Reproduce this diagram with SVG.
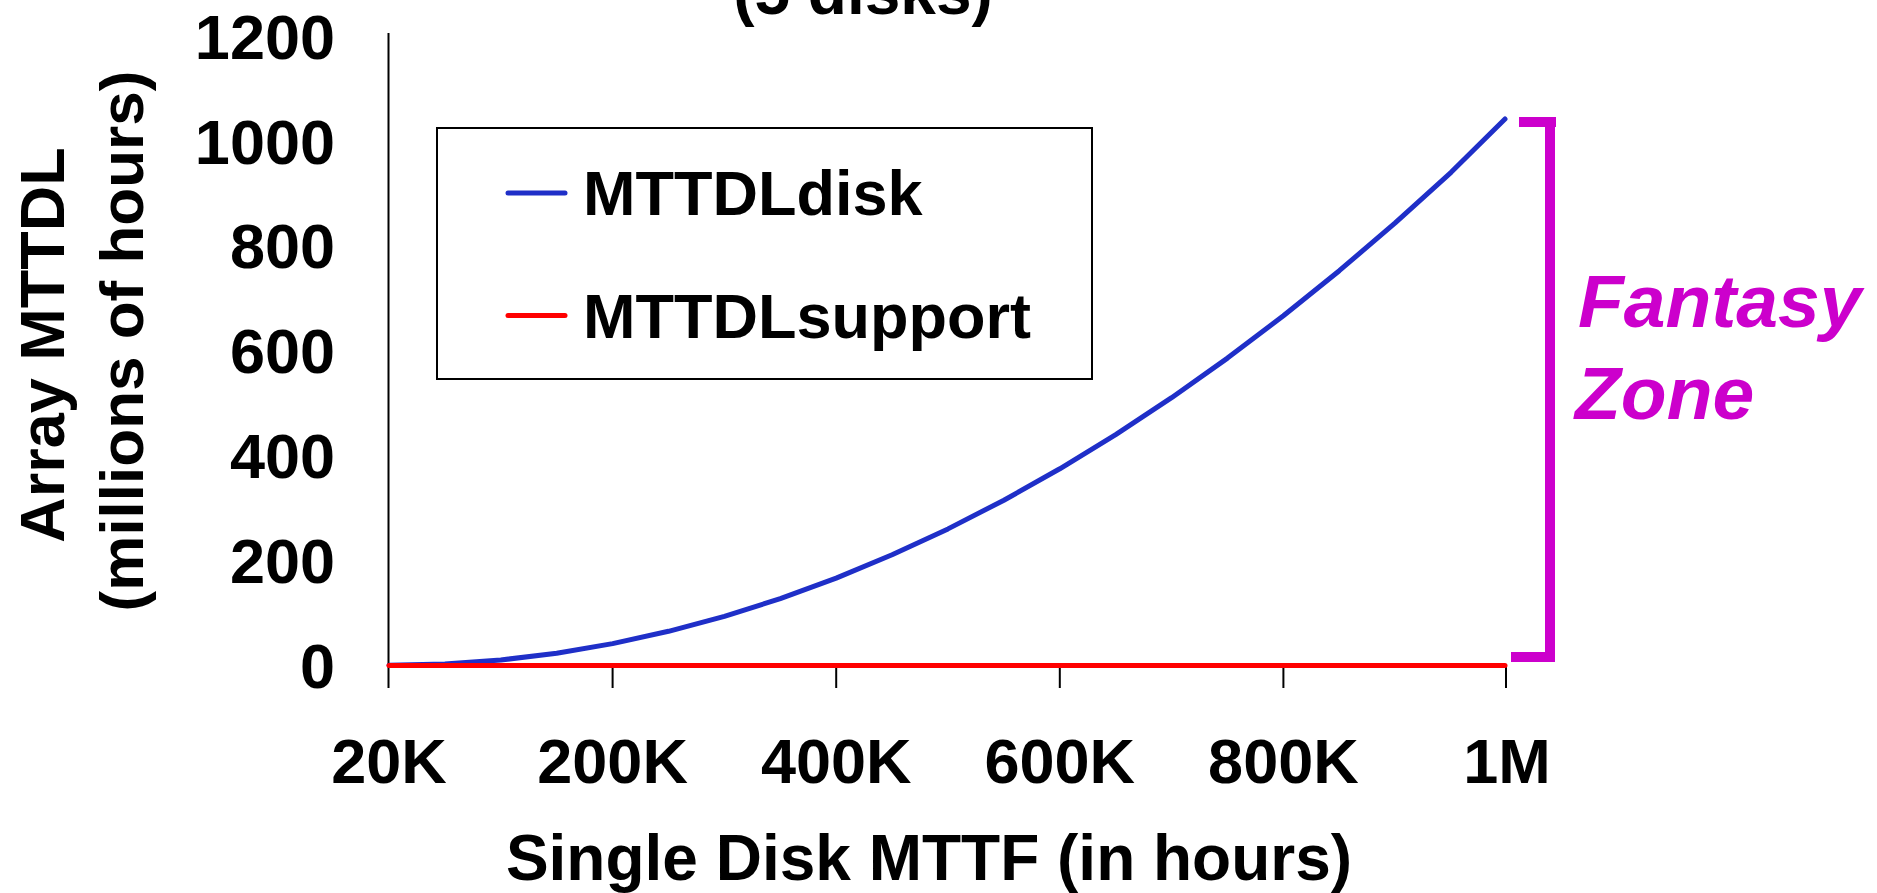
<svg xmlns="http://www.w3.org/2000/svg" width="1877" height="893" viewBox="0 0 1877 893">
<style>
text{font-family:"Liberation Sans",Arial,sans-serif;font-weight:bold;fill:#000}
.lab{font-size:63px}
.ttl{font-size:64px}
.fz{font-size:75px;font-style:italic;fill:#CC00CC}
.ax{stroke:#000;stroke-width:2;fill:none}
.disk{stroke:#1F2FC8;stroke-width:5;fill:none;stroke-linecap:round;stroke-linejoin:round}
.sup{stroke:#FF0000;stroke-width:5;fill:none;stroke-linecap:round}
.br{fill:#CC00CC}
</style>
<rect width="1877" height="893" fill="#fff"/>
<g id="title"><text class="ttl" x="863" y="14" text-anchor="middle">(5 disks)</text></g>
<g id="y-axis">
<line class="ax" x1="388.5" y1="33" x2="388.5" y2="688"/>
<text class="lab" x="335" y="58.5" text-anchor="end">1200</text>
<text class="lab" x="335" y="163.5" text-anchor="end">1000</text>
<text class="lab" x="335" y="268.3" text-anchor="end">800</text>
<text class="lab" x="335" y="373.2" text-anchor="end">600</text>
<text class="lab" x="335" y="478.2" text-anchor="end">400</text>
<text class="lab" x="335" y="583.1" text-anchor="end">200</text>
<text class="lab" x="335" y="688" text-anchor="end">0</text>
<text class="ttl" style="font-size:63px" transform="translate(64,345) rotate(-90)" text-anchor="middle">Array MTTDL</text>
<text class="ttl" style="font-size:62px" transform="translate(143,341) rotate(-90)" text-anchor="middle">(millions of hours)</text>
</g>
<g id="x-axis">
<line class="ax" x1="612.6" y1="665" x2="612.6" y2="688"/>
<line class="ax" x1="836.2" y1="665" x2="836.2" y2="688"/>
<line class="ax" x1="1059.8" y1="665" x2="1059.8" y2="688"/>
<line class="ax" x1="1283.4" y1="665" x2="1283.4" y2="688"/>
<line class="ax" x1="1506" y1="665" x2="1506" y2="688"/>
<text class="lab" x="389" y="783" text-anchor="middle">20K</text>
<text class="lab" x="612.6" y="783" text-anchor="middle">200K</text>
<text class="lab" x="836.2" y="783" text-anchor="middle">400K</text>
<text class="lab" x="1059.8" y="783" text-anchor="middle">600K</text>
<text class="lab" x="1283.4" y="783" text-anchor="middle">800K</text>
<text class="lab" x="1507" y="783" text-anchor="middle">1M</text>
<text class="ttl" x="929" y="880" text-anchor="middle">Single Disk MTTF (in hours)</text>
</g>
<g id="series">
<polyline class="disk" points="389,665.3 444.9,664.1 500.8,660 556.7,653.2 612.6,643.6 668.5,631.3 724.4,616.3 780.3,598.6 836.2,578.1 892.1,554.8 948,528.9 1003.9,500.2 1059.8,468.8 1115.7,434.6 1171.6,397.7 1227.5,358.1 1283.4,315.8 1339.3,270.7 1395.2,222.9 1451.1,172.3 1505,119"/>
<line class="sup" x1="389" y1="665.5" x2="1505" y2="665.5"/>
</g>
<g id="legend">
<rect x="437" y="128" width="655" height="251" fill="#fff" stroke="#000" stroke-width="2"/>
<line class="disk" x1="508" y1="193" x2="565" y2="193"/>
<text class="lab" x="583" y="215">MTTDLdisk</text>
<line class="sup" x1="508" y1="315.5" x2="565" y2="315.5"/>
<text class="lab" x="583" y="338">MTTDLsupport</text>
</g>
<g id="fantasy-zone">
<rect class="br" x="1519" y="117" width="37" height="10"/>
<rect class="br" x="1545" y="117" width="10" height="545"/>
<rect class="br" x="1511" y="652" width="44" height="10"/>
<text class="fz" x="1578" y="327">Fantasy</text>
<text class="fz" x="1575" y="419">Zone</text>
</g>
</svg>
